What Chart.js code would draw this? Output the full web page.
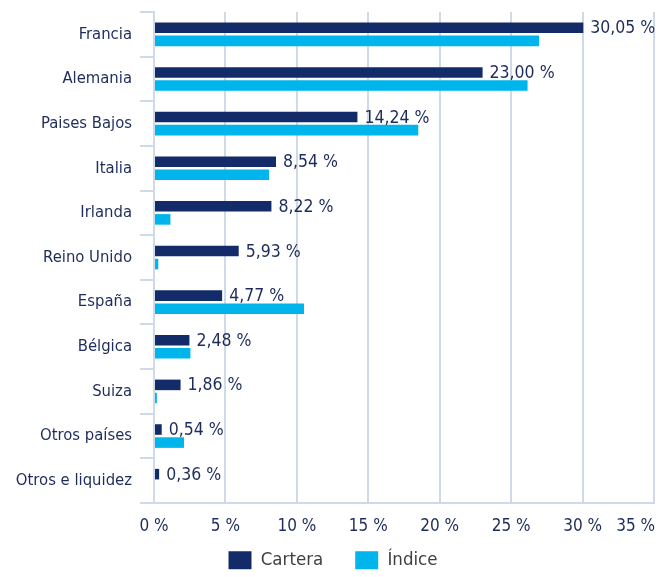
<!DOCTYPE html>
<html>
<head>
<meta charset="utf-8">
<script src="https://cdn.jsdelivr.net/npm/chart.js@4/dist/chart.umd.min.js"></script>
<style>
  html, body { margin: 0; padding: 0; background: #ffffff; }
  canvas { display: block; }
</style>
</head>
<body>
<canvas id="c" width="669" height="577"></canvas>
<script>
const categories = ['Francia', 'Alemania', 'Paises Bajos', 'Italia', 'Irlanda', 'Reino Unido', 'España', 'Bélgica', 'Suiza', 'Otros países', 'Otros e liquidez'];
const cartera = [30.05, 23.00, 14.24, 8.54, 8.22, 5.93, 4.77, 2.48, 1.86, 0.54, 0.36];
const indice = [26.95, 26.15, 18.5, 8.05, 1.15, 0.3, 10.5, 2.55, 0.2, 2.1, 0];
const seriesNames = ['Cartera', 'Índice'];
const xTickValues = [0, 5, 10, 15, 20, 25, 30, 35];
const xTickLabels = ['0 %', '5 %', '10 %', '15 %', '20 %', '25 %', '30 %', '35 %'];

const NAVY = '#132c69';
const CYAN = '#00b5ec';
const TEXT = '#1d2c5a';
const GRID = '#cfdae9';
const FONT = 'DejaVu Sans Condensed';

const fmt = v => v.toFixed(2).replace('.', ',') + ' %';

const labelPlugin = {
  id: 'labelsAndTicks',
  afterDraw(chart) {
    const ctx = chart.ctx;
    const meta = chart.getDatasetMeta(0);
    ctx.save();
    ctx.font = '17.5px "' + FONT + '"';
    ctx.fillStyle = TEXT;
    ctx.textAlign = 'left';
    ctx.textBaseline = 'middle';
    meta.data.forEach((el, i) => {
      ctx.fillText(fmt(cartera[i]), el.x + 7, el.y + 1);
    });
    const s = chart.scales.x;
    ctx.font = '17px "' + FONT + '"';
    ctx.textBaseline = 'alphabetic';
    xTickValues.forEach((v, i) => {
      const px = s.getPixelForValue(v);
      if (i === xTickValues.length - 1) {
        ctx.textAlign = 'right';
        ctx.fillText(xTickLabels[i], px + 1, 531);
      } else {
        ctx.textAlign = 'center';
        ctx.fillText(xTickLabels[i], px, 531);
      }
    });
    ctx.restore();
  }
};

new Chart(document.getElementById('c'), {
  type: 'bar',
  data: {
    labels: categories,
    datasets: [
      { label: seriesNames[0], data: cartera, backgroundColor: NAVY, barPercentage: 0.81, categoryPercentage: 0.585 },
      { label: seriesNames[1], data: indice, backgroundColor: CYAN, barPercentage: 0.81, categoryPercentage: 0.585 }
    ]
  },
  options: {
    indexAxis: 'y',
    responsive: false,
    animation: false,
    layout: { padding: { left: 12, right: 15, top: 12, bottom: 0 } },
    plugins: {
      legend: {
        position: 'bottom',
        maxHeight: 58,
        labels: {
          boxWidth: 23,
          boxHeight: 18,
          padding: 32,
          color: '#404040',
          font: { family: FONT, size: 18.5 }
        }
      },
      tooltip: { enabled: false }
    },
    scales: {
      x: {
        min: 0,
        max: 35,
        ticks: { display: false, stepSize: 5 },
        grid: { color: GRID, lineWidth: 2, drawTicks: false },
        border: { display: true, color: GRID, width: 2 },
        afterFit(s) { s.height = 16; s.paddingLeft = 0; s.paddingRight = 0; }
      },
      y: {
        ticks: { color: TEXT, font: { family: FONT, size: 16.5 }, padding: 8 },
        grid: { offset: true, drawOnChartArea: false, drawTicks: true, tickLength: 14, color: GRID, lineWidth: 2 },
        border: { display: true, color: GRID, width: 2 },
        afterFit(s) { s.width = 142; s.paddingTop = 0; s.paddingBottom = 0; }
      }
    }
  },
  plugins: [labelPlugin]
});
</script>
</body>
</html>
